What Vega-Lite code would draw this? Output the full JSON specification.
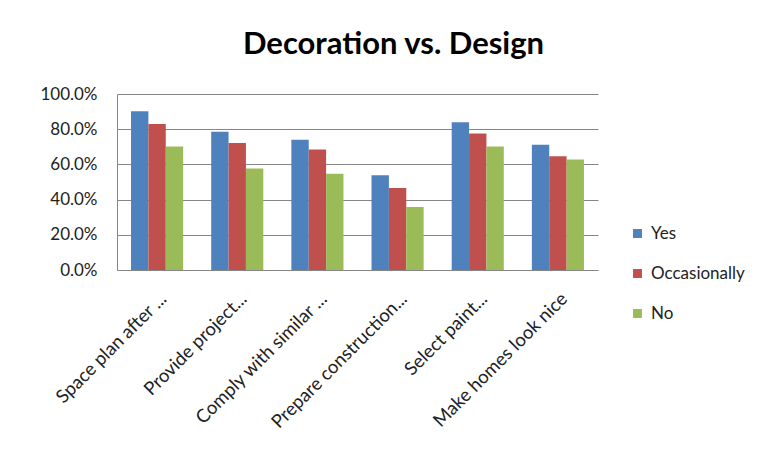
{
  "$schema": "https://vega.github.io/schema/vega-lite/v6.json",
  "autosize": {"type": "none"},
  "width": 481,
  "height": 176,
  "padding": {"left": 117, "top": 94, "right": 168, "bottom": 196},
  "background": "white",
  "config": {
    "font": "Lato",
    "view": {"stroke": null}
  },
  "title": {
    "text": "Decoration vs. Design",
    "fontSize": 31,
    "fontWeight": "bold",
    "font": "Lato",
    "color": "#000000",
    "anchor": "middle",
    "dx": 36,
    "offset": 24
  },
  "data": {
    "values": [
      {"task": "Space plan after ...", "answer": "Yes", "pct": 0.902},
      {"task": "Space plan after ...", "answer": "Occasionally", "pct": 0.830},
      {"task": "Space plan after ...", "answer": "No", "pct": 0.702},
      {"task": "Provide project...", "answer": "Yes", "pct": 0.785},
      {"task": "Provide project...", "answer": "Occasionally", "pct": 0.721},
      {"task": "Provide project...", "answer": "No", "pct": 0.576},
      {"task": "Comply with similar ...", "answer": "Yes", "pct": 0.740},
      {"task": "Comply with similar ...", "answer": "Occasionally", "pct": 0.685},
      {"task": "Comply with similar ...", "answer": "No", "pct": 0.547},
      {"task": "Prepare construction...", "answer": "Yes", "pct": 0.538},
      {"task": "Prepare construction...", "answer": "Occasionally", "pct": 0.466},
      {"task": "Prepare construction...", "answer": "No", "pct": 0.358},
      {"task": "Select paint...", "answer": "Yes", "pct": 0.840},
      {"task": "Select paint...", "answer": "Occasionally", "pct": 0.775},
      {"task": "Select paint...", "answer": "No", "pct": 0.702},
      {"task": "Make homes look nice", "answer": "Yes", "pct": 0.711},
      {"task": "Make homes look nice", "answer": "Occasionally", "pct": 0.647},
      {"task": "Make homes look nice", "answer": "No", "pct": 0.628}
    ]
  },
  "mark": {"type": "bar"},
  "encoding": {
    "x": {
      "field": "task",
      "type": "nominal",
      "sort": null,
      "scale": {"paddingInner": 0.35, "paddingOuter": 0.175},
      "axis": {
        "title": null,
        "labelAngle": -45,
        "labelFontSize": 18.5,
        "labelColor": "#222222",
        "labelPadding": 19,
        "ticks": false,
        "domainColor": "#868686",
        "labelLimit": 300
      }
    },
    "xOffset": {
      "field": "answer",
      "type": "nominal",
      "sort": ["Yes", "Occasionally", "No"],
      "scale": {"paddingInner": 0, "paddingOuter": 0}
    },
    "y": {
      "field": "pct",
      "type": "quantitative",
      "scale": {"domain": [0, 1], "nice": false},
      "axis": {
        "title": null,
        "format": ".1%",
        "values": [0, 0.2, 0.4, 0.6, 0.8, 1.0],
        "labelFontSize": 17,
        "labelColor": "#222222",
        "labelPadding": 20,
        "ticks": false,
        "domain": true,
        "domainColor": "#868686",
        "gridColor": "#868686",
        "gridWidth": 1
      }
    },
    "color": {
      "field": "answer",
      "type": "nominal",
      "sort": ["Yes", "Occasionally", "No"],
      "scale": {"domain": ["Yes", "Occasionally", "No"], "range": ["#4F81BD", "#C0504D", "#9BBB59"]},
      "legend": {
        "title": null,
        "orient": "none",
        "legendX": 512,
        "legendY": 131,
        "symbolType": "square",
        "symbolSize": 80,
        "symbolStrokeWidth": 0,
        "labelFontSize": 17,
        "labelColor": "#222222",
        "rowPadding": 22,
        "labelOffset": 5
      }
    }
  }
}
